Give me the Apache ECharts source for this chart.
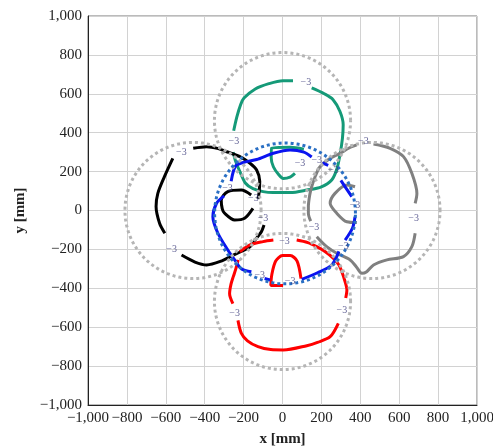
<!DOCTYPE html>
<html><head><meta charset="utf-8">
<script src="https://cdn.jsdelivr.net/npm/echarts@6/dist/echarts.min.js"></script>
<style>html,body{margin:0;padding:0;background:#fff}#c{width:493px;height:447px}</style>
</head><body><div id="c"></div>
<script>
// ---- axis ----
const axisMin = -1000, axisMax = 1000, axisStep = 200;

// ---- dotted reference circles (center, radius) ----
const grayCircleCenters = [[0, 462], [-460, 0], [460, 0], [0, -468]];
const grayCircleRadius = 350;
const blueCircleCenter = [13, -15];
const blueCircleRadius = 362;

// ---- contour lines (null = gap where a label sits) ----
const greenOuter = [[-251,410],[-235,480],[-215,545],[-198,578],[-140,625],[-70,652],[2,667],[54,667],null,
  [150,630],[215,600],[260,570],[295,510],[312,441],[308,370],[296,290],[280,215],[253,157],[200,122],[125,105],
  [40,92],[-49,92],[-100,97],[-152,112],[-190,140],[-219,200],[-240,250],[-254,300]];
const greenInner = [[110,315],[40,325],[-56,320],[-58,270],[-47,225],[-20,185],[4,165],[39,172],[64,191]];

const blackOuter = [[-459,320],[-390,328],[-330,318],[-287,302],[-219,277],[-167,243],[-133,208],[-117,150],[-120,95],[-126,60],null,
  [-95,-75],[-109,-110],[-140,-150],[-167,-186],[-253,-229],[-320,-262],[-390,-280],[-450,-265],[-519,-229],null,
  [-605,-117],[-632,-66],[-650,20],[-641,88],[-607,174],[-564,268]];
const blackInner = [[-161,80],[-212,105],[-281,97],[-315,54],[-310,10],[-298,-14],[-246,-49],[-195,-40],[-152,11]];

const blueSolid = [[-264,150],[-240,230],[-190,250],[-133,262],[-47,294],[39,311],[110,300],[150,275],null,
  [205,245],[235,232],null,[300,155],[330,110],[356,71],null,[373,-32],[360,-90],[322,-152],null,
  [290,-210],[253,-280],[180,-320],[99,-354],null,[-64,-357],[-92,-350],null,
  [-160,-315],[-212,-299],[-246,-254],[-281,-203],[-332,-117],[-358,-32],[-339,37],[-300,75],null,[-264,150]];

const redOuter = [[-219,-212],[-167,-177],[-100,-160],[-47,-152],null,[73,-152],[130,-165],[176,-186],[220,-212],
  [262,-246],[290,-280],[305,-315],[320,-360],[331,-409],[325,-450],null,[287,-580],[245,-649],[180,-678],
  [125,-695],[4,-717],[-60,-715],[-126,-700],[-180,-670],[-212,-630],[-229,-565],null,[-255,-479],[-272,-428],
  [-265,-380],[-253,-340],[-240,-300],[-228,-254]];
const redInner = [[3,-385],[-60,-385],[-55,-330],[-35,-260],[0,-232],[40,-232],[75,-260],[95,-350]];

const grayOuter = [[145,-55],[133,-14],[133,20],[140,80],[150,122],[170,180],[193,225],[240,265],[296,294],[340,320],[382,337],null,
  [468,342],[553,320],[622,277],[665,191],[691,88],[682,37],null,[682,-117],[665,-186],[622,-237],[537,-254],
  [468,-280],[433,-315],[408,-323],[380,-290],[348,-254],[279,-220],[227,-186],[176,-135]];
const grayInner = [[373,122],[331,131],[270,88],[245,37],[279,-14],[331,-58],[382,-62]];

// ---- contour labels ----
const labelText = '\u22123';
const greenLabels = [[120,660],[-250,355],[90,243]];
const blackLabels = [[-520,300],[-570,-200],[-100,-38],[-150,60]];
const blueLabels = [[176,260],[262,208],[373,28],[313,-186],[39,-366],[-117,-333],[-283,115]];
const redLabels = [[10,-160],[305,-512],[-246,-531]];
const grayLabels = [[416,354],[674,-40],[162,-88]];

function fmt(v){ const s = Math.abs(v).toLocaleString('en-US'); return v < 0 ? '\u2212' + s : s; }
function circlePts(c, r){ const p=[]; for(let i=0;i<=180;i++){ const a=i/180*2*Math.PI; p.push([c[0]+r*Math.cos(a), c[1]+r*Math.sin(a)]); } return p; }
function toData(arr){ return arr.map(p => p === null ? ['-','-'] : p); }

const series = [];
function contour(data, color){
  series.push({type:'line', data:toData(data), showSymbol:false, smooth:0.3, connectNulls:false,
    lineStyle:{color:color, width:3}, silent:true, z:3});
}
contour(greenOuter, '#159a78'); contour(greenInner, '#159a78');
contour(blackOuter, '#000000'); contour(blackInner, '#000000');
contour(grayOuter, '#808080'); contour(grayInner, '#808080');
contour(redOuter, '#ff0000'); contour(redInner, '#ff0000');
contour(blueSolid, '#0a14f0');
grayCircleCenters.forEach(c => series.push({type:'line', data:circlePts(c, grayCircleRadius), showSymbol:false,
  lineStyle:{color:'#b5b5b5', width:3, type:[3,3], cap:'butt'}, silent:true, z:4}));
series.push({type:'line', data:circlePts(blueCircleCenter, blueCircleRadius), showSymbol:false,
  lineStyle:{color:'#2a6fc4', width:3, type:[3,3], cap:'butt'}, silent:true, z:5});
series.push({type:'scatter', data:[].concat(greenLabels, blackLabels, blueLabels, redLabels, grayLabels),
  symbolSize:0, silent:true, z:6,
  label:{show:true, position:'inside', formatter:labelText, fontFamily:'Liberation Serif', fontSize:10, color:'#3a3a7a'}});

const axisCommon = {type:'value', min:axisMin, max:axisMax, interval:axisStep,
  axisLine:{show:true, onZero:false, lineStyle:{color:'#222', width:1}},
  axisTick:{show:false},
  splitLine:{show:true, lineStyle:{color:'#d2d2d2', width:1}},
  axisLabel:{formatter:fmt, fontFamily:'Liberation Serif', fontSize:15, color:'#222', hideOverlap:false},
  nameLocation:'middle', nameTextStyle:{fontFamily:'Liberation Serif', fontSize:15, fontWeight:'bold', color:'#222'}};

const chart = echarts.init(document.getElementById('c'), null, {renderer:'canvas'});
chart.setOption({
  animation:false,
  grid:{left:88, right:16, top:16, bottom:42, show:true, borderColor:'#777', borderWidth:1, containLabel:false, outerBoundsMode:'none'},
  xAxis:Object.assign({}, axisCommon, {name:'x [mm]', nameGap:27, axisLabel:Object.assign({}, axisCommon.axisLabel, {margin:6})}),
  yAxis:Object.assign({}, axisCommon, {name:'y [mm]', nameGap:60, axisLabel:Object.assign({}, axisCommon.axisLabel, {margin:6})}),
  series:series
});
</script></body></html>
